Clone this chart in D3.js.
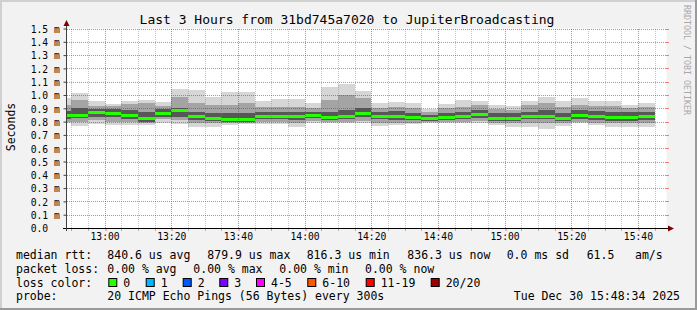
<!DOCTYPE html>
<meta charset="utf-8">
<script src="https://d3js.org/d3.v7.min.js"></script>
<style>
  body { margin: 0; background: #f2f2f2; }
  text { font-family: "DejaVu Sans Mono", monospace; fill: #000; }
</style>
<div id="chart"></div>
<script>
// 5 minute smoke steps (start time of each step)
const barTimes = ["12:45","12:50","12:55","13:00","13:05","13:10","13:15","13:20","13:25","13:30","13:35","13:40",
                  "13:45","13:50","13:55","14:00","14:05","14:10","14:15","14:20","14:25","14:30","14:35","14:40",
                  "14:45","14:50","14:55","15:00","15:05","15:10","15:15","15:20","15:25","15:30","15:35","15:40"];
// rtt in ms
const smokeMax = [0.980,1.015,0.955,0.932,0.955,0.962,0.947,1.045,1.038,0.987,1.020,1.020,0.955,0.970,0.970,0.940,1.060,1.083,
                  1.030,0.940,0.947,0.940,0.897,0.932,0.962,0.955,0.925,0.917,0.955,0.987,0.955,0.977,0.955,0.955,0.925,0.940];
const smokeHi  = [0.925,0.962,0.917,0.917,0.932,0.937,0.920,0.987,0.937,0.925,0.925,0.937,0.912,0.912,0.912,0.900,0.962,1.000,
                  0.975,0.900,0.912,0.900,0.875,0.900,0.912,0.925,0.892,0.887,0.925,0.937,0.912,0.925,0.920,0.920,0.900,0.912];
const coreHi   = [0.877,0.900,0.892,0.892,0.887,0.875,0.892,0.900,0.875,0.862,0.862,0.862,0.875,0.875,0.875,0.872,0.875,0.887,
                  0.900,0.870,0.882,0.862,0.850,0.862,0.875,0.887,0.862,0.862,0.875,0.887,0.862,0.887,0.882,0.875,0.870,0.875];
const median   = [0.844,0.847,0.866,0.861,0.843,0.823,0.858,0.880,0.837,0.827,0.816,0.816,0.841,0.840,0.837,0.845,0.828,0.837,
                  0.861,0.842,0.837,0.828,0.822,0.829,0.838,0.853,0.823,0.823,0.841,0.837,0.823,0.848,0.836,0.831,0.831,0.836];
const coreLo   = [0.817,0.825,0.837,0.832,0.817,0.799,0.837,0.837,0.812,0.807,0.797,0.797,0.817,0.817,0.812,0.825,0.812,0.817,
                  0.832,0.817,0.812,0.812,0.805,0.812,0.817,0.825,0.805,0.805,0.817,0.817,0.805,0.817,0.812,0.807,0.807,0.812];
const smokeLo  = [0.795,0.799,0.812,0.799,0.799,0.787,0.820,0.812,0.787,0.787,0.787,0.787,0.799,0.799,0.787,0.805,0.795,0.799,
                  0.807,0.792,0.792,0.792,0.795,0.795,0.799,0.807,0.787,0.787,0.792,0.792,0.787,0.799,0.792,0.787,0.787,0.787];
const smokeMin = [0.787,0.769,0.782,0.774,0.774,0.774,0.792,0.782,0.757,0.762,0.774,0.779,0.782,0.782,0.757,0.787,0.787,0.792,
                  0.792,0.767,0.774,0.782,0.787,0.787,0.787,0.792,0.774,0.762,0.762,0.747,0.767,0.787,0.774,0.762,0.762,0.757];

const yTicks = [0,0.1,0.2,0.3,0.4,0.5,0.6,0.7,0.8,0.9,1.0,1.1,1.2,1.3,1.4,1.5];
const yTickLabels = ["0.0","0.1 m","0.2 m","0.3 m","0.4 m","0.5 m","0.6 m","0.7 m","0.8 m","0.9 m",
                     "1.0 m","1.1 m","1.2 m","1.3 m","1.4 m","1.5 m"];

const lossLabels = ["0","1","2","3","4-5","6-10","11-19","20/20"];
const lossColors = ["#26ff00","#00b8ff","#0059ff","#7e00ff","#ff00ff","#ff5500","#ff0000","#a10000"];

const W = 697, H = 310;
const svg = d3.select("#chart").append("svg").attr("width", W).attr("height", H);

// background + frame
svg.append("rect").attr("width", W).attr("height", H).attr("fill", "#f2f2f2");
svg.append("rect").attr("x", 0).attr("y", 0).attr("width", W).attr("height", 2).attr("fill", "#d0d0d0");
svg.append("rect").attr("x", 0).attr("y", 0).attr("width", 2).attr("height", H).attr("fill", "#d0d0d0");
svg.append("rect").attr("x", 0).attr("y", H - 2).attr("width", W).attr("height", 2).attr("fill", "#9a9a9a");
svg.append("rect").attr("x", W - 2).attr("y", 0).attr("width", 2).attr("height", H).attr("fill", "#9a9a9a");

const t0 = new Date(2025, 11, 30, 12, 48, 34), t1 = new Date(2025, 11, 30, 15, 48, 34);
const x = d3.scaleTime().domain([t0, t1]).range([66.5, 666.5]);
const y = d3.scaleLinear().domain([0, 1.5]).range([228, 28.5]);

// white canvas
svg.append("rect").attr("x", 66.5).attr("y", 28.5).attr("width", 600).attr("height", 199.5).attr("fill", "#fff");
svg.append("clipPath").attr("id", "clip").append("rect")
    .attr("x", 66.5).attr("y", 28.5).attr("width", 600).attr("height", 199.5);

const parseT = d3.timeParse("%Y-%m-%d %H:%M");
const step = 5 * 60 * 1000;
const bars = barTimes.map((s, i) => ({
    t: parseT("2025-12-30 " + s),
    smokeMax: smokeMax[i], smokeHi: smokeHi[i], coreHi: coreHi[i], median: median[i],
    coreLo: coreLo[i], smokeLo: smokeLo[i], smokeMin: smokeMin[i]
}));

const plot = svg.append("g").attr("clip-path", "url(#clip)").attr("shape-rendering", "crispEdges");

// smoke bands, outer to inner
const bands = [["smokeMin", "smokeMax", "#d6d6d6"], ["smokeLo", "smokeHi", "#a4a4a4"], ["coreLo", "coreHi", "#575757"]];
bands.forEach(([lo, hi, c]) => {
    plot.selectAll(null).data(bars).join("rect")
        .attr("x", d => x(d.t))
        .attr("width", d => x(new Date(+d.t + step)) - x(d.t))
        .attr("y", d => y(d[hi]))
        .attr("height", d => y(d[lo]) - y(d[hi]))
        .attr("fill", c);
});

// median, coloured by loss (all 0 here)
plot.selectAll(null).data(bars).join("rect")
    .attr("x", d => x(d.t))
    .attr("width", d => x(new Date(+d.t + step)) - x(d.t))
    .attr("y", d => y(d.median) - 1.5)
    .attr("height", 3)
    .attr("fill", lossColors[0]);

// grid on top
const minorT = d3.timeMinute.every(5).range(t0, t1).filter(d => d.getMinutes() % 20 != 0);
const majorT = d3.timeMinute.every(20).range(t0, t1);
const grid = svg.append("g");
grid.selectAll(null).data(minorT).join("line")
    .attr("x1", d => Math.round(x(d)) + 0.5).attr("x2", d => Math.round(x(d)) + 0.5)
    .attr("y1", 29).attr("y2", 228)
    .attr("stroke", "rgba(128,128,128,0.45)").attr("stroke-dasharray", "1,1");
grid.selectAll(null).data(majorT).join("line")
    .attr("x1", d => Math.round(x(d)) + 0.5).attr("x2", d => Math.round(x(d)) + 0.5)
    .attr("y1", 29).attr("y2", 228)
    .attr("stroke", "rgba(255,0,0,0.55)").attr("stroke-dasharray", "1,1");
grid.selectAll(null).data(yTicks.slice(1)).join("line")
    .attr("x1", 67).attr("x2", 666)
    .attr("y1", d => Math.round(y(d)) + 0.5).attr("y2", d => Math.round(y(d)) + 0.5)
    .attr("stroke", "rgba(255,0,0,0.55)").attr("stroke-dasharray", "1,1");
// small ticks at right end
grid.selectAll(null).data(yTicks.slice(1)).join("line")
    .attr("x1", 666).attr("x2", 669)
    .attr("y1", d => Math.round(y(d)) + 0.5).attr("y2", d => Math.round(y(d)) + 0.5)
    .attr("stroke", "rgba(255,0,0,0.5)");
// minor ticks below the x axis
grid.selectAll(null).data(minorT).join("line")
    .attr("x1", d => Math.round(x(d)) + 0.5).attr("x2", d => Math.round(x(d)) + 0.5)
    .attr("y1", 228).attr("y2", 231)
    .attr("stroke", "rgba(128,128,128,0.6)");

// x axis
const xAxis = svg.append("g").attr("transform", "translate(0,228)").style("color", "#000")
    .call(d3.axisBottom(x).tickValues(majorT).tickFormat(d3.timeFormat("%H:%M")).tickSize(3).tickPadding(2));
xAxis.select(".domain").remove();
xAxis.selectAll(".tick line").attr("stroke", "rgba(255,0,0,0.55)")
    .attr("transform", d => `translate(${Math.round(x(d)) + 0.5 - x(d)},0)`);
xAxis.selectAll("text").style("font-family", "DejaVu Sans Mono").style("font-size", "9.7px").style("fill", "#000");

// y axis
const yAxis = svg.append("g").attr("transform", "translate(66.5,0)").style("color", "#000")
    .call(d3.axisLeft(y).tickValues(yTicks).tickFormat((d, i) => yTickLabels[i]).tickSize(3));
yAxis.select(".domain").remove();
yAxis.selectAll(".tick line").attr("stroke", "#404040");
yAxis.selectAll("text").attr("text-anchor", "start").attr("x", -35.8).attr("dy", "0.4em")
    .style("font-family", "DejaVu Sans Mono").style("font-size", "9.7px").style("fill", "#000");

// axis lines + arrows
svg.append("line").attr("x1", 63).attr("x2", 670).attr("y1", 228.5).attr("y2", 228.5).attr("stroke", "#000");
svg.append("line").attr("x1", 66.5).attr("x2", 66.5).attr("y1", 231).attr("y2", 24).attr("stroke", "#404040");
svg.append("path").attr("d", "M668,225.5 L674,228.5 L668,231.5 Z").attr("fill", "#7f0000");
svg.append("path").attr("d", "M63.5,26 L66.5,20 L69.5,26 Z").attr("fill", "#7f0000");

// title
svg.append("text").attr("x", 347).attr("y", 23.5).attr("text-anchor", "middle")
    .style("font-size", "13px").text("Last 3 Hours from 31bd745a7020 to JupiterBroadcasting");

// y label
svg.append("text").attr("transform", "translate(14.5,127) rotate(-90)").attr("text-anchor", "middle")
    .style("font-size", "11.5px").text("Seconds");

// watermark
svg.append("text").attr("transform", "translate(684,5) rotate(90)")
    .style("font-size", "8.3px").style("fill", "#a8a8a8").text("RRDTOOL / TOBI OETIKER");

// legend
const legend = [
    [258.5, [[16, "median rtt:"], [107.3, "840.6 us avg"], [207.3, "879.9 us max"], [306.7, "816.3 us min"],
             [407.3, "836.3 us now"], [506.7, "0.0 ms sd"], [586.7, "61.5"], [635, "am/s"]]],
    [272.5, [[16, "packet loss:"], [107.3, "0.00 % avg"], [193.3, "0.00 % max"], [279.3, "0.00 % min"], [365, "0.00 % now"]]],
    [286.5, [[16, "loss color:"]]],
    [300, [[16, "probe:"], [107.3, "20 ICMP Echo Pings (56 Bytes) every 300s"]]]
];
legend.forEach(([ly, parts]) => {
    parts.forEach(([lx, s]) => {
        svg.append("text").attr("x", lx).attr("y", ly).style("font-size", "11.5px").text(s);
    });
});
svg.append("text").attr("x", 680).attr("y", 300).attr("text-anchor", "end").style("font-size", "11.5px")
    .text("Tue Dec 30 15:48:34 2025");

const swatchX = [108.3, 145.7, 182.7, 219.3, 256, 307.3, 365.7, 430.7];
const sw = svg.append("g").selectAll("g").data(lossLabels).join("g");
sw.append("rect").attr("x", (d, i) => swatchX[i] + 0.5).attr("y", 278.5).attr("width", 8).attr("height", 8)
    .attr("fill", (d, i) => lossColors[i]).attr("stroke", "#000");
sw.append("text").attr("x", (d, i) => swatchX[i] + 15).attr("y", 286.5).style("font-size", "11.5px").text(d => d);
</script>
